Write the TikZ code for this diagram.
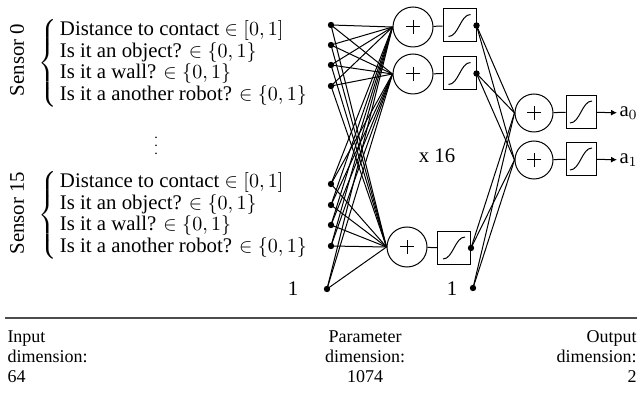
\documentclass[tikz,border=0pt]{standalone}
\usepackage{amsmath}
\usepackage{amsfonts}
\usepackage{fontspec}
\setmainfont{Liberation Serif}
\usetikzlibrary{arrows.meta}

\begin{document}
\begin{tikzpicture}[x=0.5pt,y=-0.5pt,font=\fontsize{10.4}{10.8}\selectfont,line width=0.5pt,
	dot/.style={circle,fill,inner sep=0pt,minimum size=3.2pt},
	sum/.style={circle,draw,inner sep=0pt,minimum size=#1,
		path picture={\draw ([xshift=-3.3pt]path picture bounding box.center) -- ([xshift=3.3pt]path picture bounding box.center);
			\draw ([yshift=-3.3pt]path picture bounding box.center) -- ([yshift=3.3pt]path picture bounding box.center);}},
	sum/.default=20pt,
	sig/.style={draw,inner sep=0pt,minimum width=#1,minimum height=16.5pt,
		path picture={\draw ([shift={(-5.5pt,-5.5pt)}]path picture bounding box.center) .. controls +(5pt,0pt) and +(-5pt,0pt) .. ([shift={(5.5pt,5.5pt)}]path picture bounding box.center);}},
	sig/.default=16.5pt]
	\useasboundingbox (0,0) rectangle (637,406);
	% sensor inputs
	\node[rotate=90] (sa) at (17,60) {Sensor 0};
	\node[anchor=west,inner sep=0pt] (ta) at (38,63.5) {$\left\{\begin{tabular}{@{\hspace{1.5pt}}l@{}}Distance to contact $\smash{\in[0,1]}$\\Is it an object? $\smash{\in\{0,1\}}$\\Is it a wall? $\smash{\in\{0,1\}}$\\Is it a another robot? $\smash{\in\{0,1\}}$\end{tabular}\right.$};
	\node[font=\fontsize{7}{8}\selectfont] (vd) at (156,140) {$\vdots$};
	\node[rotate=90] (sb) at (17,213) {Sensor 15};
	\node[anchor=west,inner sep=0pt] (tb) at (38,215.5) {$\left\{\begin{tabular}{@{\hspace{1.5pt}}l@{}}Distance to contact $\smash{\in[0,1]}$\\Is it an object? $\smash{\in\{0,1\}}$\\Is it a wall? $\smash{\in\{0,1\}}$\\Is it a another robot? $\smash{\in\{0,1\}}$\end{tabular}\right.$};
	\foreach \y [count=\i] in {25,45,65,86,184,205,225,246}
		\node[dot] (in\i) at (331,\y) {};
	\node[dot] (in0) at (327,289) {};
	\node (one) at (293,289) {1};
	% hidden layer
	\node[sum] (h1) at (413,27) {};
	\node[sum] (h2) at (413,74) {};
	\node[sum] (h3) at (407,247) {};
	\node[sig] (g1) at (459.5,25.5) {};
	\node[sig] (g2) at (459.5,73.5) {};
	\node[sig] (g3) at (454,248) {};
	\foreach \h in {1,2,3}{
		\draw (h\h) -- (g\h);
		\node[dot] (o\h) at (g\h.east) {};
		\foreach \i in {0,...,8}
			\draw (in\i.center) -- (h\h.west);
	}
	\node[dot] (o0) at (473,288) {};
	\node (two) at (452,289) {1};
	\node (rep) at (437,156) {x 16};
	% output layer
	\node[sum=19pt] (y1) at (534,113) {};
	\node[sum=19pt] (y2) at (534,160) {};
	\node[sig=15pt] (z1) at (581,112) {};
	\node[sig=15pt] (z2) at (581,159) {};
	\node[anchor=west,inner sep=1pt] (a1) at (617,113) {$\mathrm{a}_0$};
	\node[anchor=west,inner sep=1pt] (a2) at (617,160) {$\mathrm{a}_1$};
	\foreach \k in {1,2}{
		\draw (y\k) -- (z\k);
		\draw[-{Latex[length=3pt,width=3pt]}] (z\k) -- (a\k);
		\foreach \h in {0,...,3}
			\draw (o\h.center) -- (y\k.west);
	}
	% dimensions
	\coordinate (la) at (5,318);
	\coordinate (lb) at (637,318);
	\draw[line width=0.9pt,gray!60!black] (la) -- (lb);
	\begin{scope}[font=\fontsize{9}{10}\selectfont]
		\node[anchor=north west,align=left,inner sep=0pt] (dimin) at (7,330) {Input\\dimension:\\64};
		\node[anchor=north,align=center,inner sep=0pt] (dimpar) at (365,330) {Parameter\\dimension:\\1074};
		\node[anchor=north east,align=right,inner sep=0pt] (dimout) at (637,330) {Output\\dimension:\\2};
	\end{scope}
\end{tikzpicture}
\end{document}
